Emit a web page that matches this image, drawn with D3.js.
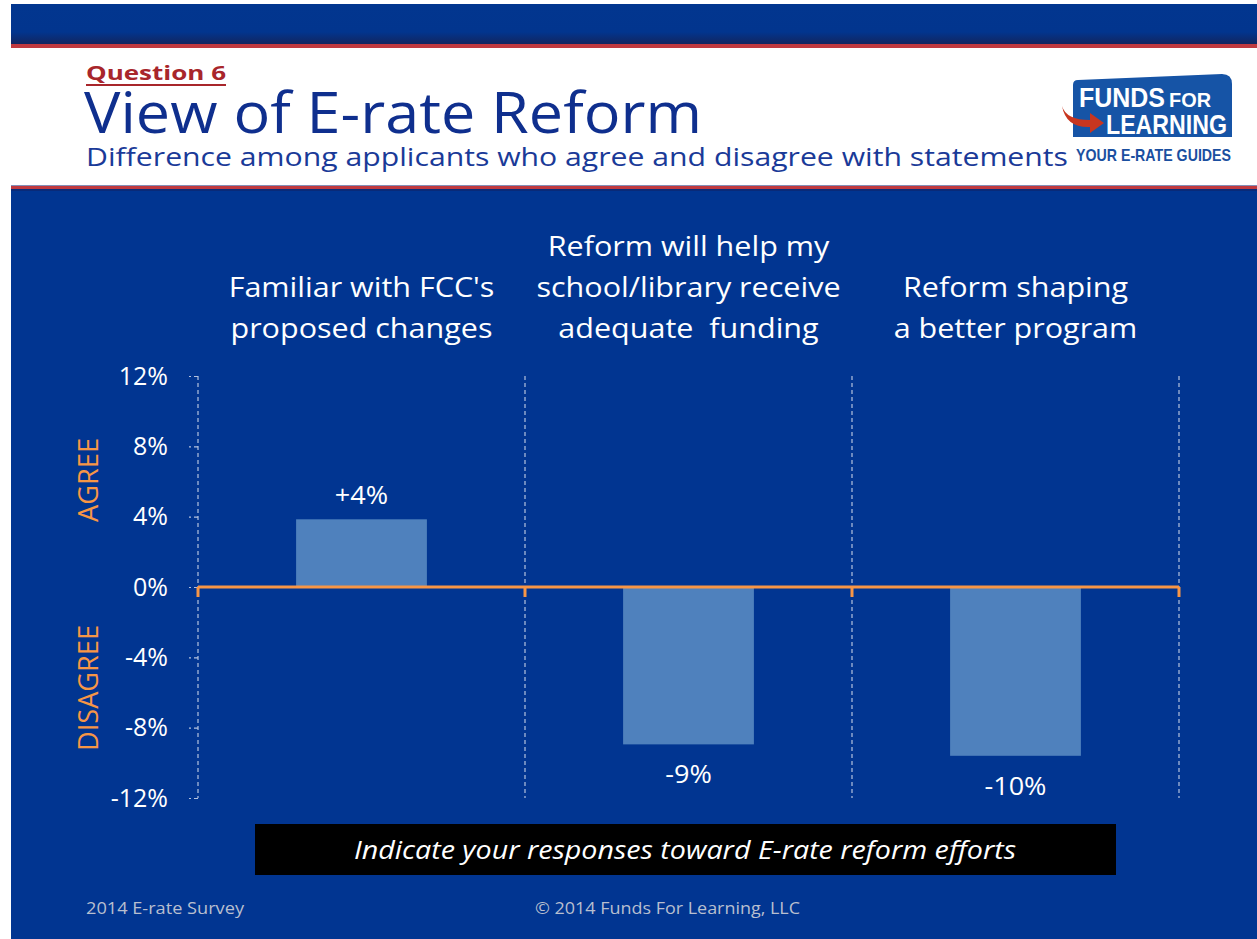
<!DOCTYPE html>
<html><head><meta charset="utf-8">
<script src="https://cdn.jsdelivr.net/npm/d3@7"></script>
<style>
html,body{margin:0;padding:0;background:#fff;}
svg{display:block;}
</style></head>
<body>
<svg id="c" width="1257" height="939"></svg>
<script>
// ---- data ----
const categories = ["cat1","cat2","cat3"];
const categoryLabels = [
  ["Familiar with FCC's","proposed changes"],
  ["Reform will help my","school/library receive","adequate  funding"],
  ["Reform shaping","a better program"]
];
const values = [3.85, -8.95, -9.6];
const valueLabels = ["+4%","-9%","-10%"];
const tickValues = [-12,-8,-4,0,4,8,12];

const BLUE = "#013591", ORANGE = "#f79646", BAR = "#4f81bd";
const svg = d3.select("#c");
const defs = svg.append("defs");
const g1 = defs.append("linearGradient").attr("id","topg").attr("x1",0).attr("x2",0).attr("y1",0).attr("y2",1);
g1.append("stop").attr("offset","0").attr("stop-color","#02368f");
g1.append("stop").attr("offset","0.7").attr("stop-color","#02358e");
g1.append("stop").attr("offset","1").attr("stop-color","#12255f");

function stretch(sel, k){
  sel.each(function(){
    const L = this.getComputedTextLength();
    d3.select(this).attr("textLength", L*k).attr("lengthAdjust","spacingAndGlyphs");
  });
}

// slide background
svg.append("rect").attr("x",11).attr("y",4).attr("width",1246).attr("height",935).attr("fill",BLUE);
svg.append("rect").attr("x",11).attr("y",4).attr("width",1246).attr("height",40).attr("fill","url(#topg)");
svg.append("rect").attr("x",11).attr("y",44).attr("width",1246).attr("height",4).attr("fill","#c0393f");
svg.append("rect").attr("x",11).attr("y",48).attr("width",1246).attr("height",137).attr("fill","#fff");
svg.append("rect").attr("x",11).attr("y",185).attr("width",1246).attr("height",1).attr("fill","#8390b8");
svg.append("rect").attr("x",11).attr("y",186).attr("width",1246).attr("height",3).attr("fill","#c0393f");
svg.append("rect").attr("x",11).attr("y",189).attr("width",1246).attr("height",2).attr("fill","#0a2a78");

// header texts
svg.append("text").attr("x",86).attr("y",80).text("Question 6")
  .attr("font-family","Open Sans").attr("font-weight","bold").attr("font-size",20)
  .attr("fill","#a8262b").attr("textLength",140).attr("lengthAdjust","spacingAndGlyphs");
svg.append("rect").attr("x",86).attr("y",84).attr("width",140).attr("height",2).attr("fill","#a8262b");
svg.append("text").attr("x",84).attr("y",133).text("View of E-rate Reform")
  .attr("font-family","Open Sans").attr("font-size",56).attr("fill","#0f2f8e")
  .attr("textLength",618).attr("lengthAdjust","spacingAndGlyphs");
svg.append("text").attr("x",86).attr("y",166).text("Difference among applicants who agree and disagree with statements")
  .attr("font-family","Open Sans").attr("font-size",25).attr("fill","#1a3a98")
  .attr("textLength",982).attr("lengthAdjust","spacingAndGlyphs");

// logo
const logo = svg.append("g");
logo.append("path").attr("d","M1078,80 L1222,74 Q1232,74 1232,84 L1232,137 L1073,137 L1073,85 Q1073,80 1078,80 Z").attr("fill","#1654a6");
const LF = "Liberation Sans Narrow, Liberation Sans";
logo.append("text").attr("x",1079).attr("y",107).text("FUNDS")
  .attr("font-family",LF).attr("font-weight","bold").attr("font-size",27)
  .attr("fill","#fff").attr("textLength",86).attr("lengthAdjust","spacingAndGlyphs");
logo.append("text").attr("x",1169).attr("y",107).text("FOR")
  .attr("font-family",LF).attr("font-weight","bold").attr("font-size",20)
  .attr("fill","#fff").attr("textLength",42).attr("lengthAdjust","spacingAndGlyphs");
logo.append("text").attr("x",1106).attr("y",134).text("LEARNING")
  .attr("font-family",LF).attr("font-weight","bold").attr("font-size",28)
  .attr("fill","#fff").attr("textLength",121).attr("lengthAdjust","spacingAndGlyphs");
logo.append("path").attr("d","M1062,106 Q1066,120 1090,120 L1090,113 L1104,123 L1090,133 L1090,127 Q1066,128 1062,106 Z").attr("fill","#c8361f");
logo.append("text").attr("x",1076).attr("y",161).text("YOUR E-RATE GUIDES")
  .attr("font-family",LF).attr("font-weight","bold").attr("font-size",17)
  .attr("fill","#1a4fa0").attr("textLength",155).attr("lengthAdjust","spacingAndGlyphs");

// ---- chart ----
const x = d3.scaleBand().domain(categories).range([198,1179]).paddingInner(0).paddingOuter(0);
const y = d3.scaleLinear().domain([-12,12]).range([798,376]);
const chart = svg.append("g");

// vertical dashed separators
const seps = [x.range()[0], ...categories.slice(1).map(c=>x(c)), x.range()[1]];
chart.selectAll("line.sep").data(seps).join("line").attr("class","sep")
  .attr("x1",d=>d).attr("x2",d=>d).attr("y1",y(12)).attr("y2",y(-12))
  .attr("stroke","#b4c2de").attr("stroke-width",1.2).attr("stroke-dasharray","4,3");

// y axis
const yAxis = d3.axisLeft(y).tickValues(tickValues).tickSize(9).tickPadding(21).tickFormat(d=>d+"%");
const ya = chart.append("g").attr("transform","translate(198,0)").call(yAxis);
ya.select(".domain").remove();
ya.selectAll(".tick line").attr("stroke","#b4c2de").attr("stroke-width",1.2).attr("stroke-dasharray","4,3");
ya.selectAll(".tick text").attr("fill","#fff").attr("font-family","Open Sans").attr("font-size",25);

// bars
const bw = x.bandwidth()*0.4;
chart.selectAll("rect.bar").data(values).join("rect").attr("class","bar")
  .attr("x",(d,i)=>x(categories[i])+x.bandwidth()/2-bw/2)
  .attr("width",bw)
  .attr("y",d=>y(Math.max(0,d)))
  .attr("height",d=>Math.abs(y(d)-y(0)))
  .attr("fill",BAR);

// zero line with ticks
chart.append("line").attr("x1",x.range()[0]).attr("x2",x.range()[1]).attr("y1",y(0)).attr("y2",y(0))
  .attr("stroke",ORANGE).attr("stroke-width",3);
chart.selectAll("line.zt").data(seps).join("line").attr("class","zt")
  .attr("x1",d=>d).attr("x2",d=>d).attr("y1",y(0)).attr("y2",y(0)+10)
  .attr("stroke",ORANGE).attr("stroke-width",3);

// value labels
chart.selectAll("text.val").data(values).join("text").attr("class","val")
  .attr("x",(d,i)=>x(categories[i])+x.bandwidth()/2)
  .attr("y",d=> d>=0 ? y(d)-15 : y(d)+39)
  .attr("text-anchor","middle").attr("fill","#fff").attr("font-family","Open Sans").attr("font-size",26)
  .text((d,i)=>valueLabels[i]).call(stretch,1.04);

// category labels
categories.forEach((c,i)=>{
  const lines = categoryLabels[i];
  const n = lines.length;
  lines.forEach((t,j)=>{
    chart.append("text").attr("x",x(c)+x.bandwidth()/2).attr("y",338-(n-1-j)*41)
      .attr("text-anchor","middle").attr("fill","#fff").attr("font-family","Open Sans").attr("font-size",27)
      .attr("xml:space","preserve").style("white-space","pre")
      .text(t).call(stretch,1.13);
  });
});

// AGREE / DISAGREE
svg.append("text").attr("transform",`translate(98,480) rotate(-90)`)
  .attr("text-anchor","middle").attr("fill",ORANGE).attr("font-family","Open Sans").attr("font-size",28).text("AGREE")
  .attr("textLength",84).attr("lengthAdjust","spacingAndGlyphs");
svg.append("text").attr("transform",`translate(98,688) rotate(-90)`)
  .attr("text-anchor","middle").attr("fill",ORANGE).attr("font-family","Open Sans").attr("font-size",28).text("DISAGREE")
  .attr("textLength",126).attr("lengthAdjust","spacingAndGlyphs");

// black box
svg.append("rect").attr("x",255).attr("y",824).attr("width",861).attr("height",51).attr("fill","#000");
svg.append("text").attr("x",685).attr("y",859).attr("text-anchor","middle")
  .attr("fill","#fff").attr("font-family","Open Sans").attr("font-style","italic").attr("font-size",26)
  .attr("textLength",662).attr("lengthAdjust","spacingAndGlyphs")
  .text("Indicate your responses toward E-rate reform efforts");

// footer
svg.append("text").attr("x",86).attr("y",914).attr("fill","#b8bfcf").attr("font-family","Open Sans").attr("font-size",17)
  .attr("textLength",158).attr("lengthAdjust","spacingAndGlyphs").text("2014 E-rate Survey");
svg.append("text").attr("x",535).attr("y",914).attr("fill","#b8bfcf").attr("font-family","Open Sans").attr("font-size",17)
  .attr("textLength",265).attr("lengthAdjust","spacingAndGlyphs").text("© 2014 Funds For Learning, LLC");
</script>
</body></html>
